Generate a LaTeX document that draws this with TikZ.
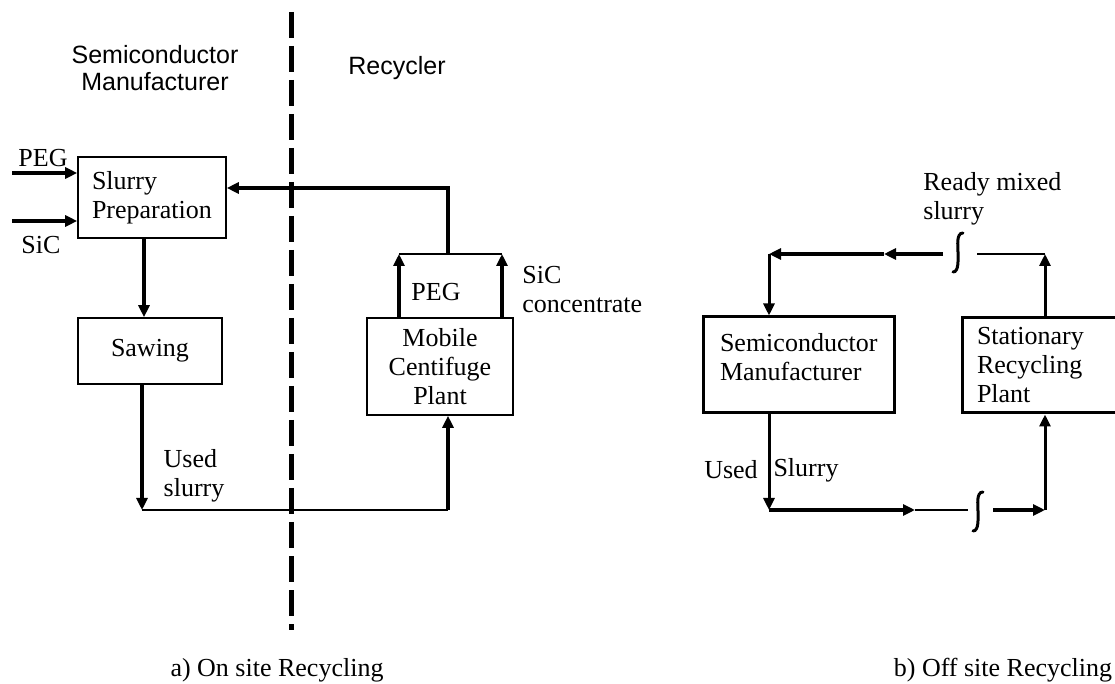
\documentclass[tikz,border=0pt]{standalone}
\usepackage{fontspec}
\setmainfont{Liberation Serif}
\newfontfamily\headfont{Liberation Sans}
\usetikzlibrary{arrows.meta}

\newcommand{\txtsize}{\fontsize{13}{14.5}\selectfont}
\newcommand{\headsize}{\headfont\fontsize{12.5}{13.5}\selectfont}

\tikzset{
  box/.style={draw, line width=0.8pt, inner sep=0pt, font=\txtsize},
  boxb/.style={box, line width=1.5pt},
  flow/.style={->, line width=2pt},
  thinline/.style={line width=1pt},
  lbl/.style={inner sep=0pt, font=\txtsize},
  squiggle/.style={line width=1.5pt, line cap=round}
}

\begin{document}
\begin{tikzpicture}[>={Triangle[length=6pt,width=5.5pt]}, x=0.5pt, y=-0.5pt]
        \useasboundingbox (0,0) rectangle (1115,684);

        % On site recycling
        \begin{scope}
            \node[inner sep=0pt, align=center, font=\headsize] (hmanu) at (155,68) {Semiconductor\\Manufacturer};
            \node[inner sep=0pt, font=\headsize] (hrec) at (397,68) {Recycler};
            \draw[line width=2.5pt, dash pattern=on 13pt off 4pt] (291,12) -- (291,630);

            \node[box, minimum width=74pt, minimum height=40.5pt, text width=60pt, align=left] (prep) at (152,197.5) {Slurry\\Preparation};
            \node[box, minimum width=72pt, minimum height=33pt] (saw) at (150,351) {Sawing};
            \node[box, minimum width=73pt, minimum height=48.5pt, align=center] (mobile) at (440,366.5) {Mobile\\Centifuge\\Plant};

            \coordinate (pegin) at (12,173);
            \coordinate (sicin) at (12,221);
            \draw[flow] (pegin) -- (prep.west |- pegin);
            \draw[flow] (sicin) -- (prep.west |- sicin);
            \node[lbl] (peglbl) at (43,158) {PEG};
            \node[lbl] (siclbl) at (41,245) {SiC};

            \draw[flow] (prep.south -| 144,0) -- (saw.north -| 144,0);

            % used slurry to the recycler
            \coordinate (usedc) at (142,510);
            \coordinate (mobc) at (448,510);
            \draw[flow] (saw.south -| usedc) -- (usedc);
            \draw[thinline] (usedc) -- (mobc);
            \draw[flow] (mobc) -- (mobile.south -| mobc);
            \node[lbl, align=left] (usedlbl) at (194,476) {Used\\slurry};

            % products back to slurry preparation
            \coordinate (pegup) at (399,254);
            \coordinate (sicup) at (502,254);
            \coordinate (join) at (448,254);
            \coordinate (back) at (448,188);
            \draw[flow] (mobile.north -| pegup) -- (pegup);
            \draw[flow] (mobile.north -| sicup) -- (sicup);
            \draw[thinline] (pegup) -- (sicup);
            \draw[flow] (join) -- (back) -- (prep.east |- back);
            \node[lbl] (peg2) at (436,292) {PEG};
            \node[lbl, anchor=west, align=left] (sicconc) at (522,290) {SiC\\concentrate};

            \node[lbl] (capa) at (277,670) {a) On site Recycling};
        \end{scope}

        % Off site recycling
        \begin{scope}
            \node[boxb, minimum width=95.5pt, minimum height=48pt, text width=78.5pt, align=left] (semi) at (798.5,365) {Semiconductor\\Manufacturer\\[-6pt]\mbox{}};
            \node[boxb, minimum width=89pt, minimum height=47.5pt, text width=74pt, align=left] (stat) at (1051,365.5) {Stationary\\Recycling\\Plant};

            % ready mixed slurry
            \coordinate (rtop) at (1045,254);
            \coordinate (rbrk) at (977,254);
            \coordinate (rres) at (943,254);
            \coordinate (rmid) at (884,254);
            \coordinate (ltop) at (769,254);
            \draw[->, line width=1.5pt] (stat.north -| rtop) -- (rtop);
            \draw[thinline] (rtop) -- (rbrk);
            \draw[flow] (rres) -- (rmid);
            \draw[flow] (rmid) -- (ltop);
            \draw[->, line width=1.5pt] (ltop) -- (semi.north -| ltop);
            \draw[squiggle] (963,233) .. controls (956,233) and (958,246) .. (958,252) .. controls (958,260) and (959,272) .. (953,272);
            \node[lbl, anchor=west, align=left] (readylbl) at (923,199) {Ready mixed\\slurry};

            % used slurry
            \coordinate (lbot) at (769,510);
            \coordinate (bmid) at (915,510);
            \coordinate (bbrk) at (968,510);
            \coordinate (bres) at (993,510);
            \coordinate (rbot) at (1045,510);
            \draw[->, line width=1.5pt] (semi.south -| lbot) -- (lbot);
            \draw[flow] (lbot) -- (bmid);
            \draw[thinline] (bmid) -- (bbrk);
            \draw[flow] (bres) -- (rbot);
            \draw[->, line width=1.5pt] (rbot) -- (stat.south -| rbot);
            \draw[squiggle] (983,492) .. controls (976,492) and (978,505) .. (978,511) .. controls (978,519) and (979,531) .. (973,531);
            \node[lbl] (usedr) at (731,470) {Used};
            \node[lbl] (slurryr) at (806,470) {Slurry};

            \node[lbl] (capb) at (1003,670) {b) Off site Recycling};
        \end{scope}
    \end{tikzpicture}
\end{document}
